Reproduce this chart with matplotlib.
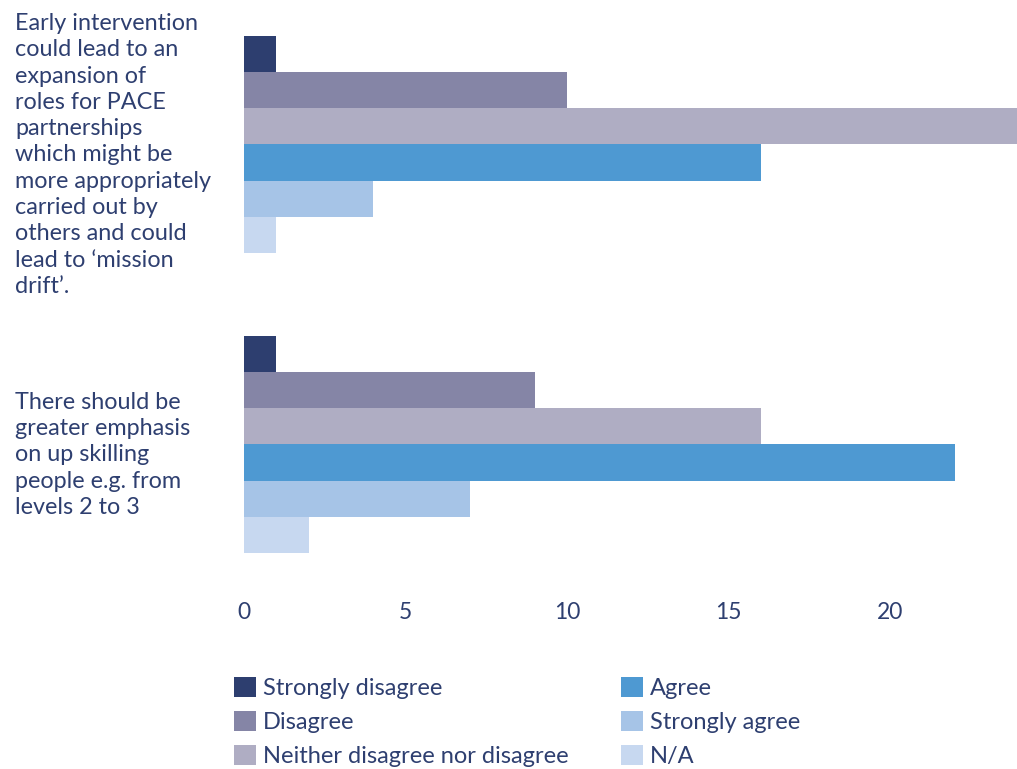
import numpy as np
import matplotlib
matplotlib.use('Agg')
import matplotlib.pyplot as plt
from matplotlib.patches import Patch
import matplotlib.transforms as mtransforms

plt.rcParams['font.family'] = ['Lato', 'DejaVu Sans']

questions = ['Early intervention\ncould lead to an\nexpansion of\nroles for PACE\npartnerships\nwhich might be\nmore appropriately\ncarried out by\nothers and could\nlead to \u2018mission\ndrift\u2019.',
             'There should be\ngreater emphasis\non up skilling\npeople e.g. from\nlevels 2 to 3']
responses = ['Strongly disagree', 'Disagree', 'Neither disagree nor disagree',
             'Agree', 'Strongly agree', 'N/A']
strongly_disagree = [1, 1]
disagree = [10, 9]
neither = [24, 16]
agree = [16, 22]
strongly_agree = [4, 7]
na = [1, 2]
colors = ['#2d3e6f', '#8585a6', '#afadc3', '#4e99d2', '#a6c4e7', '#c7d8f0']
txt = '#2e3f70'

series = [strongly_disagree, disagree, neither, agree, strongly_agree, na]

fig = plt.figure(figsize=(10.17, 7.69), dpi=100)
ax = fig.add_axes([244/1017, 1 - 580/769, 1 - 244/1017, 580/769])

h = 36.2/300
y = np.arange(len(questions))
for i, vals in enumerate(series):
    ax.barh(y + (i - 2.5) * h, vals, height=h, color=colors[i], linewidth=0)

ax.set_xlim(0, 23.93)
ax.set_ylim(1 + (580 - 444.5)/300, -144.5/300)
ax.set_xticks([0, 5, 10, 15, 20])
ax.tick_params(axis='x', length=0, pad=16, labelsize=16.5, labelcolor=txt)
ax.set_yticks([])
for s in ax.spines.values():
    s.set_visible(False)

trans = mtransforms.blended_transform_factory(fig.transFigure, ax.transData)
for yi, q in zip(y, questions):
    ax.text(15/1017, yi + 0.035, q, transform=trans, ha='left', va='center',
            fontsize=16.8, color=txt, linespacing=1.31)

handles = [Patch(facecolor=c, edgecolor='none') for c in colors]
leg_kw = dict(frameon=False, fontsize=17, labelcolor=txt, handlelength=0.93,
              handleheight=0.93, handletextpad=0.3, labelspacing=0.5,
              borderaxespad=0, borderpad=0)
leg1 = fig.legend(handles[:3], responses[:3], loc='upper left',
                  bbox_to_anchor=(234/1017, 1 - 677/769), **leg_kw)
leg2 = fig.legend(handles[3:], responses[3:], loc='upper left',
                  bbox_to_anchor=(621/1017, 1 - 677/769), **leg_kw)

plt.savefig('out.png', dpi=100)
